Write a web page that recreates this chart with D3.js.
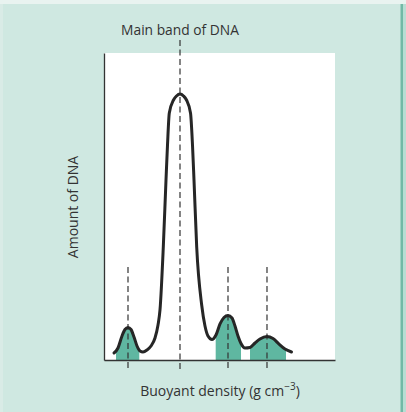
<!DOCTYPE html>
<html>
<head>
<meta charset="utf-8">
<script src="https://cdn.jsdelivr.net/npm/d3@7"></script>
<style>
html, body { margin: 0; padding: 0; background: #cfe8e1; }
svg { display: block; }
</style>
</head>
<body>
<svg id="chart" width="406" height="412"></svg>
<script>
// Buoyant density (relative units) of points traced along the profile
const density = [4.33, 6.06, 7.79, 9.09, 10.39, 11.69, 12.99, 14.29, 15.58, 16.88,
  18.61, 20.35, 22.08, 23.38, 24.24, 25.67, 26.84, 27.49, 28.27, 30.09,
  31.39, 32.90, 34.42, 35.71, 37.45, 38.31, 38.96, 40.13, 42.29, 43.72,
  45.02, 46.75, 48.48, 50.22, 51.95, 53.68, 55.41, 56.71, 58.01, 59.31,
  61.04, 63.20, 65.37, 67.53, 70.56, 73.16, 75.76, 78.35, 81.17];
// Amount of DNA at those densities
const amount = [2.28, 3.91, 7.82, 9.93, 10.59, 9.93, 7.49, 4.56, 2.93, 2.61,
  3.26, 4.56, 7.17, 11.40, 16.29, 36.81, 58.63, 70.03, 80.46, 84.69,
  86.0, 86.64, 86.0, 84.69, 80.46, 70.03, 58.63, 36.81, 17.92, 11.07,
  7.82, 6.68, 8.14, 11.73, 13.84, 14.50, 13.68, 11.07, 7.82, 5.37,
  3.91, 4.07, 5.54, 6.84, 7.65, 7.00, 5.21, 3.58, 2.61];
// Band centres (dashed markers) and the shaded satellite bands
const bandCentres = [10.39, 32.90, 53.68, 70.56];
const bandIsMain = [false, true, false, false];
const satelliteStart = [5.19, 48.35, 63.20];
const satelliteEnd = [15.28, 59.31, 78.79];
const satelliteMarkerTop = 30.3;
const labels = { main: "Main band of DNA", x: "Buoyant density (g cm", y: "Amount of DNA" };

const svg = d3.select("#chart");
const W = 406, H = 412;
const plot = { left: 104, right: 335, top: 53, bottom: 360 };

// frame decoration
svg.append("rect").attr("x", 0).attr("y", 0).attr("width", W).attr("height", H).attr("fill", "#cfe8e1");
svg.append("rect").attr("x", 0).attr("y", 0).attr("width", W).attr("height", 4).attr("fill", "#e9f3f0");
svg.append("rect").attr("x", 0).attr("y", 4).attr("width", 3).attr("height", H).attr("fill", "#d9ebe6");
svg.append("rect").attr("x", 400.5).attr("y", 4).attr("width", 2.5).attr("height", H).attr("fill", "#72b9a6");
svg.append("rect").attr("x", 403).attr("y", 4).attr("width", 3).attr("height", H).attr("fill", "#b8ddd3");

const x = d3.scaleLinear().domain([0, 100]).range([plot.left, plot.right]);
const y = d3.scaleLinear().domain([0, 100]).range([plot.bottom, plot.top]);

svg.append("rect")
  .attr("x", plot.left).attr("y", plot.top)
  .attr("width", plot.right - plot.left).attr("height", plot.bottom - plot.top)
  .attr("fill", "#ffffff");

const pts = density.map((d, i) => ({ d, a: amount[i] }));

// clip paths for satellite fills
const defs = svg.append("defs");
satelliteStart.forEach((s, i) => {
  defs.append("clipPath").attr("id", "sat" + i)
    .append("rect")
    .attr("x", x(s)).attr("y", plot.top)
    .attr("width", x(satelliteEnd[i]) - x(s))
    .attr("height", plot.bottom - plot.top);
});

const area = d3.area()
  .x(p => x(p.d)).y0(y(0)).y1(p => y(p.a))
  .curve(d3.curveMonotoneX);

satelliteStart.forEach((s, i) => {
  svg.append("path")
    .attr("d", area(pts))
    .attr("clip-path", `url(#sat${i})`)
    .attr("fill", "#5fb7a1");
});

// dashed band markers
bandCentres.forEach((c, i) => {
  svg.append("line")
    .attr("x1", x(c)).attr("x2", x(c))
    .attr("y1", bandIsMain[i] ? 40 : y(satelliteMarkerTop))
    .attr("y2", plot.bottom + 9)
    .attr("stroke", "#333")
    .attr("stroke-width", 1.2)
    .attr("stroke-dasharray", "6,3.5");
});

// axes (no ticks)
const xAxis = d3.axisBottom(x).tickValues([]).tickSizeOuter(0);
const yAxis = d3.axisLeft(y).tickValues([]).tickSizeOuter(0);
svg.append("g").attr("transform", `translate(0,${plot.bottom})`).call(xAxis)
  .select(".domain").attr("stroke", "#333").attr("stroke-width", 1.3);
svg.append("g").attr("transform", `translate(${plot.left},0)`).call(yAxis)
  .select(".domain").attr("stroke", "#333").attr("stroke-width", 1.3);

// profile curve
const line = d3.line().x(p => x(p.d)).y(p => y(p.a)).curve(d3.curveMonotoneX);
svg.append("path")
  .attr("d", line(pts))
  .attr("fill", "none")
  .attr("stroke", "#262626")
  .attr("stroke-width", 3)
  .attr("stroke-linejoin", "round")
  .attr("stroke-linecap", "round");

const font = "'Open Sans', 'Noto Sans', sans-serif";
svg.append("text")
  .attr("x", x(bandCentres[1])).attr("y", 35)
  .attr("text-anchor", "middle")
  .attr("font-family", font).attr("font-size", 13.8)
  .attr("fill", "#333")
  .text(labels.main);

const xl = svg.append("text")
  .attr("x", 220).attr("y", 396)
  .attr("text-anchor", "middle")
  .attr("font-family", font).attr("font-size", 14)
  .attr("fill", "#333");
xl.append("tspan").text(labels.x);
xl.append("tspan").attr("dy", -6).attr("font-size", 10).text("\u22123");
xl.append("tspan").attr("dy", 6).text(")");

svg.append("text")
  .attr("transform", "translate(78,207) rotate(-90)")
  .attr("text-anchor", "middle")
  .attr("font-family", font).attr("font-size", 14)
  .attr("fill", "#333")
  .text(labels.y);
</script>
</body>
</html>
